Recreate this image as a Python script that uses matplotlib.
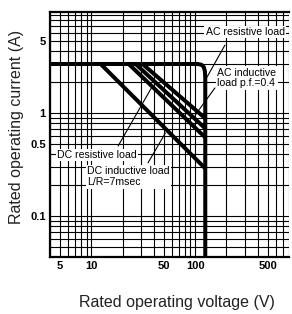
import matplotlib
matplotlib.use('Agg')
import matplotlib.pyplot as plt

plt.rcParams['font.family'] = ['Liberation Sans', 'DejaVu Sans']

# outer envelope (AC resistive load), with the rounded corner
env_v = [4, 105, 115, 121, 124, 125, 125]
env_a = [3, 3, 2.95, 2.8, 2.55, 2.2, 0.04]

# diagonal limits: start voltage at 3 A, current reached at 125 V
diag_start_v = [12.3, 22.9, 26.7, 31.1]
diag_end_a = [0.29, 0.58, 0.71, 0.89]
i_max = 3
v_max = 125

xticks = [5, 10, 50, 100, 500]
xtick_labels = ['5', '10', '50', '100', '500']
yticks = [0.1, 0.5, 1, 5]
ytick_labels = ['0.1', '0.5', '1', '5']

fig = plt.figure(figsize=(2.92, 3.14), dpi=100)
ax = fig.add_axes([50/292, 57/314, 239/292, 245/314])
ax.set_xscale('log')
ax.set_yscale('log')
ax.set_xlim(4, 800)
ax.set_ylim(0.04, 9.6)

ax.grid(True, which='both', color='black', lw=0.8)
ax.set_axisbelow(True)

ax.plot(env_v, env_a, color='black', lw=2.9, solid_capstyle='butt', zorder=3)
for v0, a1 in zip(diag_start_v, diag_end_a):
    ax.plot([v0, v_max], [i_max, a1], color='black', lw=2.9, solid_capstyle='butt', zorder=3)

ax.set_xticks(xticks)
ax.set_xticklabels(xtick_labels)
ax.set_yticks(yticks)
ax.set_yticklabels(ytick_labels)
ax.minorticks_on()
ax.xaxis.set_minor_formatter(plt.NullFormatter())
ax.yaxis.set_minor_formatter(plt.NullFormatter())
ax.tick_params(which='both', length=0, labelsize=8, pad=3)
for lab in ax.get_xticklabels() + ax.get_yticklabels():
    lab.set_fontweight('bold')

for s in ['left', 'bottom', 'top']:
    ax.spines[s].set_linewidth(1.6)
ax.spines['right'].set_visible(False)

box = dict(facecolor='white', edgecolor='none', pad=1)
ax.text(0.652, 0.918, 'AC resistive load', transform=ax.transAxes, fontsize=7.6,
        va='center', ha='left', bbox=box, zorder=5)
ax.text(0.700, 0.731, 'AC inductive\nload p.f.=0.4', transform=ax.transAxes, fontsize=7.6,
        va='center', ha='left', bbox=box, zorder=5, linespacing=1.1)
ax.text(0.030, 0.416, 'DC resistive load', transform=ax.transAxes, fontsize=7.6,
        va='center', ha='left', bbox=box, zorder=5)
ax.text(0.155, 0.327, 'DC inductive load\nL/R=7msec', transform=ax.transAxes, fontsize=7.6,
        va='center', ha='left', bbox=box, zorder=5, linespacing=1.1)

leader = dict(arrowstyle='-', lw=0.8, color='black', shrinkA=0, shrinkB=0)
ax.annotate('', xy=(130, 2.24), xytext=(0.732, 0.865), textcoords='axes fraction',
            arrowprops=leader, zorder=6)
ax.annotate('', xy=(100, 0.957), xytext=(0.690, 0.690), textcoords='axes fraction',
            arrowprops=leader, zorder=6)
ax.annotate('', xy=(38.8, 1.83), xytext=(0.285, 0.453), textcoords='axes fraction',
            arrowprops=leader, zorder=6)
ax.annotate('', xy=(51.6, 0.64), xytext=(0.410, 0.384), textcoords='axes fraction',
            arrowprops=leader, zorder=6)

fig.text(0.606, 0.038, 'Rated operating voltage (V)', fontsize=11.5, color='#222222',
         ha='center', va='center')
fig.text(0.058, 0.596, 'Rated operating current (A)', fontsize=11.5, color='#222222',
         ha='center', va='center', rotation=90)

fig.savefig('out.png', dpi=100)
